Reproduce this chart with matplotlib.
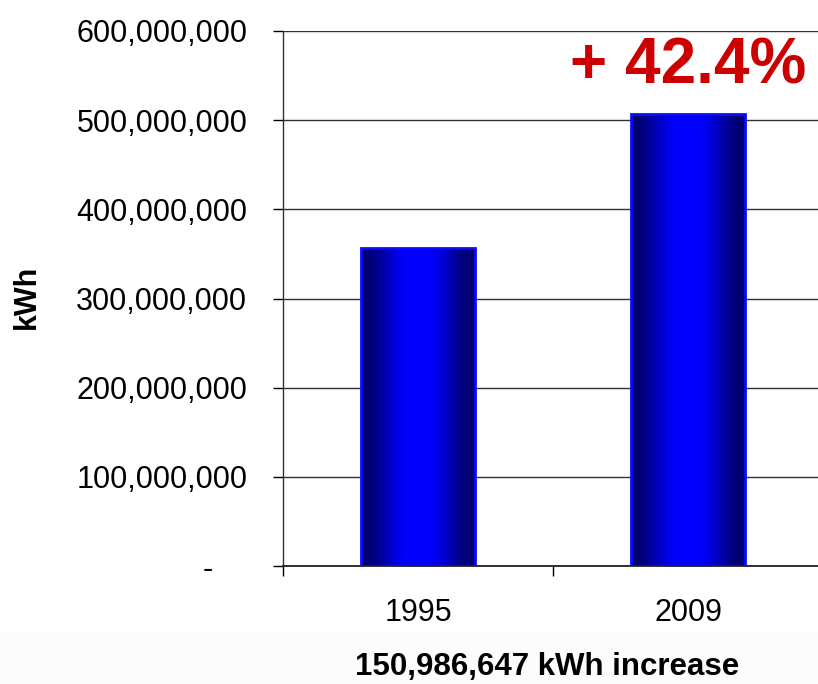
import matplotlib
matplotlib.use("Agg")
import matplotlib.pyplot as plt
import numpy as np
from matplotlib.ticker import FuncFormatter, FixedLocator
from matplotlib.patches import Rectangle

plt.rcParams['font.family'] = ['Liberation Sans', 'DejaVu Sans']

# ---- data ----
years = ["1995", "2009"]
kwh = [356_100_000, 507_086_647]
yticks = [0, 100_000_000, 200_000_000, 300_000_000, 400_000_000, 500_000_000, 600_000_000]
increase_label = "150,986,647 kWh increase"
pct_label = "+ 42.4%"
y_label = "kWh"

W, H = 818, 684
fig = plt.figure(figsize=(W / 100, H / 100), dpi=100)
fig.patch.set_facecolor("white")

# very light gray band at bottom
fig.patches.append(Rectangle((0, 0), 1, 1 - 632 / H, transform=fig.transFigure,
                             facecolor="#fcfcfc", edgecolor="none", zorder=0))

ax = fig.add_axes([283 / W, 1 - 566 / H, 540 / W, 535 / H])
ax.set_facecolor("white")

x = np.arange(len(years))
bw = 0.42
bars = ax.bar(x, kwh, width=bw, facecolor="none", edgecolor="#0a0aff",
              linewidth=2.0, zorder=3)

# horizontal gradient: navy edges, bright blue centre
t = np.linspace(0, 1, 256)
prof = np.clip((1 - np.abs(t - 0.5) * 2) * 1.15, 0, 1)
prof = prof * prof * (3 - 2 * prof)
cols = np.zeros((1, 256, 3))
cols[0, :, 2] = 0.42 + 0.58 * prof
for b in bars:
    x0, y0 = b.get_x(), b.get_y()
    im = ax.imshow(cols, extent=[x0, x0 + b.get_width(), y0, y0 + b.get_height()],
                   aspect="auto", interpolation="bilinear", zorder=2.5)
    im.set_clip_path(b)

ax.set_xlim(-0.5, 1.5)
ax.set_ylim(0, 600_000_000)

# y axis
ax.yaxis.set_major_locator(FixedLocator(yticks))
ax.yaxis.set_major_formatter(FuncFormatter(
    lambda v, p: f"{v:,.0f}" if v else "-    "))
ax.tick_params(axis="y", direction="out", length=7.2, width=1.0, pad=18.5,
               labelsize=22, colors="black")
ax.grid(axis="y", color="#303030", linewidth=1.0, zorder=1)
ax.set_axisbelow(True)

# x axis: labels at centres, ticks at boundaries
ax.set_xticks(x)
ax.set_xticklabels(years)
ax.tick_params(axis="x", which="major", length=0, pad=23, labelsize=22)
ax.set_xticks([-0.5, 0.5, 1.5], minor=True)
ax.tick_params(axis="x", which="minor", direction="out", length=7.2, width=1.0)

for s in ["top", "right"]:
    ax.spines[s].set_visible(False)
ax.spines["left"].set_color("#303030")
ax.spines["bottom"].set_color("#202020")
ax.spines["left"].set_linewidth(1.0)
ax.spines["bottom"].set_linewidth(1.3)
ax.spines["bottom"].set_zorder(4)

# annotations
ax.text(1, 1 - (67 - 31) / 535, pct_label, transform=ax.get_xaxis_transform(),
        ha="center", va="center", fontsize=46, fontweight="bold", color="#cc0000")

fig.text(547 / W, 1 - 667 / H, increase_label, ha="center", va="center",
         fontsize=22.5, fontweight="bold", color="black")
fig.text(27 / W, 1 - 297 / H, y_label, ha="center", va="center", rotation=90,
         fontsize=22, fontweight="bold", color="black")

fig.savefig("out.png", dpi=100, facecolor=fig.get_facecolor())
